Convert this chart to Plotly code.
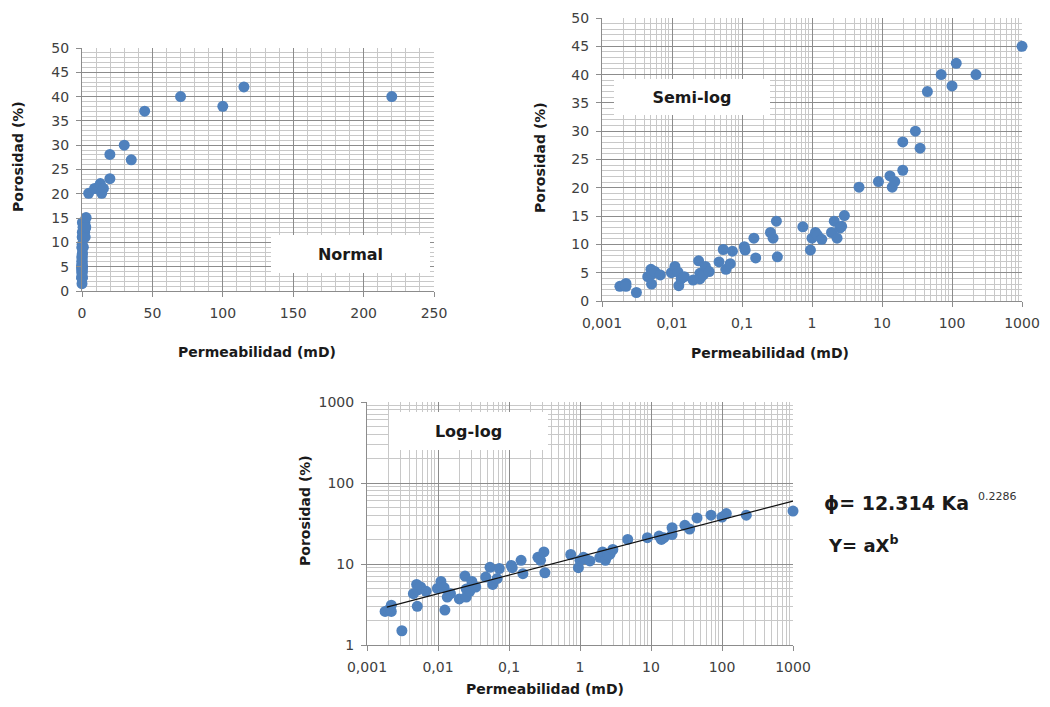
import plotly.graph_objects as go

# ---------------- data ----------------
perm_md = [0.0018, 0.0020, 0.0022, 0.0022, 0.0031, 0.0045, 0.0050, 0.0052, 0.0051, 0.0057,
           0.0068, 0.0098, 0.0110, 0.0122, 0.0125, 0.0135, 0.0150, 0.0200, 0.0240, 0.0250,
           0.0250, 0.0280, 0.0300, 0.0340, 0.047, 0.054, 0.059, 0.068, 0.073, 0.108,
           0.111, 0.148, 0.157, 0.255, 0.278, 0.31, 0.32, 0.74, 0.95, 1.0,
           1.12, 1.2, 1.38, 1.9, 2.08, 2.28, 2.5, 2.65, 2.9, 4.7,
           8.9, 13.0, 14.0, 15.2, 19.8, 19.8, 30, 35, 44.5, 70,
           100, 115, 220, 1000]
poros_pct = [2.6, 2.7, 3.1, 2.6, 1.5, 4.3, 5.6, 4.8, 3.0, 5.2,
             4.6, 5.0, 6.1, 5.1, 2.7, 3.9, 4.3, 3.7, 7.1, 4.9,
             3.9, 4.6, 6.1, 5.2, 6.9, 9.1, 5.6, 6.6, 8.8, 9.6,
             9.0, 11.1, 7.6, 12.1, 11.1, 14.1, 7.8, 13.1, 9.0, 11.1,
             12.1, 11.6, 10.9, 12.1, 14.1, 11.1, 12.9, 13.2, 15.1, 20.1,
             21.1, 22.1, 20.1, 21.1, 23.1, 28.1, 30, 27, 37, 40,
             38, 42, 40, 45]

# power-law trend shown on the chart: phi = a * K^b
trend_a = 12.314
trend_b = 0.2286
trend_x = [0.0019, 1000]

log_ticks = [0.001, 0.01, 0.1, 1, 10, 100, 1000]
log_ticktext = ["0,001", "0,01", "0,1", "1", "10", "100", "1000"]
loglog_yticks = [1, 10, 100, 1000]

panel_labels = ["Normal", "Semi-log", "Log-log"]
x_title = "Permeabilidad (mD)"
y_title = "Porosidad (%)"
eq_main = "ϕ= 12.314 Ka"
eq_sup = "0.2286"
eq_general = "Y= aX<sup>b</sup>"

# ---------------- styling ----------------
OFF = 8                      # default page margin around the plot div
W, H = 1050 - 2 * OFF, 707 - 2 * OFF
FONT = "DejaVu Sans"
MARK = "#4F81BD"
MAJ = "#8c8c8c"
MIN = "#c8c8c8"
TICKC = "#404040"


def px(x):
    return (x - OFF) / W


def py(y):
    return 1 - (y - OFF) / H


trend_y = [trend_a * x ** trend_b for x in trend_x]
minor_log = [m * 10 ** e for e in range(-3, 3) for m in range(2, 10)]

fig = go.Figure()
marker = dict(color=MARK, size=11, line=dict(width=0))
fig.add_trace(go.Scatter(x=perm_md, y=poros_pct, mode="markers", marker=marker,
                         xaxis="x", yaxis="y", cliponaxis=False, showlegend=False))
fig.add_trace(go.Scatter(x=perm_md, y=poros_pct, mode="markers", marker=marker,
                         xaxis="x2", yaxis="y2", cliponaxis=False, showlegend=False))
fig.add_trace(go.Scatter(x=perm_md, y=poros_pct, mode="markers", marker=marker,
                         xaxis="x3", yaxis="y3", cliponaxis=False, showlegend=False))
fig.add_trace(go.Scatter(x=trend_x, y=trend_y, mode="lines",
                         line=dict(color="#111111", width=1.2),
                         xaxis="x3", yaxis="y3", showlegend=False))

common = dict(showline=True, linecolor=MAJ, linewidth=1, ticks="outside", ticklen=5,
              tickcolor=MAJ, gridcolor=MAJ, gridwidth=1, showgrid=True, zeroline=False,
              tickfont=dict(family=FONT, size=14, color=TICKC), ticklabelstandoff=4,
              mirror=False, automargin=False)

fig.update_layout(
    template="none",
    width=W, height=H, autosize=False,
    margin=dict(l=0, r=0, t=0, b=0, pad=0),
    paper_bgcolor="white", plot_bgcolor="white",
    font=dict(family=FONT),
    xaxis=dict(domain=[px(82), px(434)], anchor="y", range=[0, 250], dtick=50, tick0=0,
               minor=dict(dtick=10, showgrid=True, gridcolor=MIN, ticks=""), **common),
    yaxis=dict(domain=[py(291), py(48)], anchor="x", range=[0, 50], dtick=5, tick0=0,
               minor=dict(dtick=1, showgrid=True, gridcolor=MIN, ticks=""), **common),
    xaxis2=dict(domain=[px(602), px(1022)], anchor="y2", type="log", range=[-3, 3],
                tickmode="array", tickvals=log_ticks, ticktext=log_ticktext,
                minor=dict(tickmode="array", tickvals=minor_log, showgrid=True,
                           gridcolor=MIN, ticks=""), **common),
    yaxis2=dict(domain=[py(301), py(18)], anchor="x2", range=[0, 50], dtick=5, tick0=0,
                minor=dict(dtick=1, showgrid=True, gridcolor=MIN, ticks=""), **common),
    xaxis3=dict(domain=[px(367), px(793)], anchor="y3", type="log", range=[-3, 3],
                tickmode="array", tickvals=log_ticks, ticktext=log_ticktext,
                minor=dict(tickmode="array", tickvals=minor_log, showgrid=True,
                           gridcolor=MIN, ticks=""), **common),
    yaxis3=dict(domain=[py(645), py(402)], anchor="x3", type="log", range=[0, 3],
                tickmode="array", tickvals=loglog_yticks,
                ticktext=[str(v) for v in loglog_yticks],
                minor=dict(tickmode="array", tickvals=[m * 10 ** e for e in range(0, 3) for m in range(2, 10)],
                           showgrid=True, gridcolor=MIN, ticks=""), **common),
)

ann = []
title_font = dict(family=FONT, size=14, color="#1a1a1a")
for (cx, cy) in [(257, 352), (770, 353), (545, 689)]:
    ann.append(dict(x=px(cx), y=py(cy), xref="paper", yref="paper", text="<b>%s</b>" % x_title,
                    showarrow=False, xanchor="center", yanchor="middle", font=title_font))
for (cx, cy) in [(18, 157), (540, 158), (305, 511)]:
    ann.append(dict(x=px(cx), y=py(cy), xref="paper", yref="paper", text="<b>%s</b>" % y_title,
                    textangle=-90, showarrow=False, xanchor="center", yanchor="middle",
                    font=title_font))
# white label boxes
for label, (cx, cy, w, h) in zip(panel_labels, [(350, 254, 159, 38), (692, 97, 156, 36),
                                                (468, 431, 159, 38)]):
    ann.append(dict(x=px(cx), y=py(cy), xref="paper", yref="paper", text="<b>%s</b>" % label,
                    showarrow=False, xanchor="center", yanchor="middle", width=w, height=h,
                    bgcolor="white", borderpad=0, borderwidth=0,
                    font=dict(family=FONT, size=16, color="#1a1a1a")))
# equation
ann.append(dict(x=px(822), y=py(503), xref="paper", yref="paper", text="<b>%s</b>" % eq_main,
                showarrow=False, xanchor="left", yanchor="middle",
                font=dict(family=FONT, size=19, color="#1a1a1a")))
ann.append(dict(x=px(976), y=py(496), xref="paper", yref="paper", text=eq_sup,
                showarrow=False, xanchor="left", yanchor="middle",
                font=dict(family=FONT, size=11, color="#333333")))
ann.append(dict(x=px(826), y=py(544), xref="paper", yref="paper", text="<b>%s</b>" % eq_general,
                showarrow=False, xanchor="left", yanchor="middle",
                font=dict(family=FONT, size=18, color="#1a1a1a")))
fig.update_layout(annotations=ann)

fig.write_html("out.html")
